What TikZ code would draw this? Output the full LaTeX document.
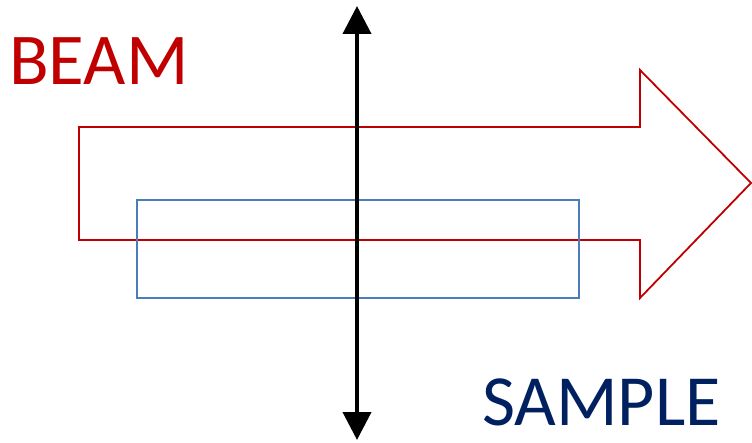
\documentclass[tikz,border=0pt]{standalone}
\usepackage{fontspec}
\setmainfont{Carlito}
\usetikzlibrary{arrows.meta}
\definecolor{beamred}{HTML}{C00000}
\definecolor{sampleblue}{HTML}{4A7EBB}
\definecolor{labelnavy}{HTML}{002060}
\tikzset{
  beamshape/.style={draw=beamred, line width=1.8pt, line join=miter},
  sampleshape/.style={draw=sampleblue, line width=1.5pt},
  axisline/.style={line width=4pt, {Triangle[length=28pt,width=28pt]}-{Triangle[length=28pt,width=28pt]}},
  biglabel/.style={inner sep=0pt, anchor=base west}
}
\begin{document}
\begin{tikzpicture}[x=1pt,y=-1pt]
  \useasboundingbox (0,0) rectangle (752,443);
  % beam: block arrow pointing right
  \draw[beamshape] (79,127) -- (640,127) -- (640,70) -- (751,183) -- (640,298)
        -- (640,240) -- (79,240) -- cycle;
  % sample slab
  \draw[sampleshape] (137,200) rectangle (579,298);
  % vertical axis with arrowheads at both ends
  \coordinate (axtop) at (357,6);
  \coordinate (axbot) at (357,440);
  \draw[axisline] (axtop) -- (axbot);
  % labels
  \node[biglabel, text=beamred, font=\fontsize{73}{73}\selectfont] (beam) at (9,85) {BEAM};
  \node[biglabel, text=labelnavy, font=\fontsize{72}{72}\selectfont] (sample) at (482,425) {SAMPLE};
\end{tikzpicture}
\end{document}
